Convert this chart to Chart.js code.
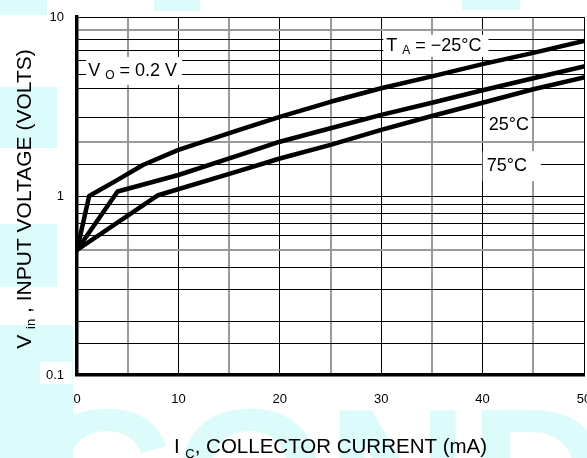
<!DOCTYPE html>
<html>
<head>
<meta charset="utf-8">
<script src="https://cdn.jsdelivr.net/npm/chart.js@4.4.1/dist/chart.umd.min.js"></script>
<style>
    html, body { margin: 0; padding: 0; background: #fff; }
    .chart-container { width: 587px; height: 458px; position: relative; }
</style>
</head>
<body>
<div class="chart-container"><canvas id="vin-chart"></canvas></div>
<script>
// collector current (mA) and input voltage (V)
const currentM25 = [0, 1.2, 4, 6.5, 10, 16, 20, 25, 30, 35, 40, 45, 50];
const voltsM25 = [0.5, 1.0, 1.23, 1.49, 1.81, 2.34, 2.77, 3.36, 4.0, 4.66, 5.45, 6.3, 7.35];
const current25 = [0, 4, 10, 16, 20, 25, 30, 35, 40, 45, 50];
const volts25 = [0.5, 1.06, 1.31, 1.69, 2.01, 2.39, 2.84, 3.32, 3.9, 4.55, 5.3];
const current75 = [0, 8, 16, 20, 25, 30, 35, 40, 45, 50];
const volts75 = [0.5, 1.01, 1.38, 1.62, 1.93, 2.34, 2.8, 3.32, 3.95, 4.6];

// grid lines and tick labels
const xGridValues = [0, 5, 10, 15, 20, 25, 30, 35, 40, 45, 50];
const xLabelValues = [0, 10, 20, 30, 40, 50];
const xTickLabels = ["0", "10", "20", "30", "40", "50"];
const yGridValues = [0.1, 0.15, 0.2, 0.3, 0.4, 0.5, 0.6, 0.7, 0.8, 0.9, 1, 1.5, 2, 2.75, 4, 4.75, 5.7, 6.5, 7.5, 8.5, 10];
const yLabelValues = [0.1, 1, 10];
const yTickLabels = ["0.1", "1", "10"];
const yGrayLines = [0.5, 2, 8.5];
const xGrayLines = [5, 15, 25, 35, 45];

const FONT = '"Liberation Sans", Arial, Helvetica, sans-serif';

function toPoints(xs, ys) {
    return xs.map((x, i) => ({ x: x, y: ys[i] }));
}

function labelFor(values, labels, v) {
    const i = values.findIndex((w) => Math.abs(w - v) < 1e-9);
    return i >= 0 ? labels[i] : "";
}

// text pieces: [text, isSubscript]
function drawPieces(ctx, pieces, x, y, size, subSize, subDrop) {
    pieces.forEach(([text, sub]) => {
        ctx.font = (sub ? subSize : size) + "px " + FONT;
        ctx.fillText(text, x, sub ? y + subDrop : y);
        x += ctx.measureText(text).width;
    });
    return x;
}

function piecesWidth(ctx, pieces, size, subSize) {
    let w = 0;
    pieces.forEach(([text, sub]) => {
        ctx.font = (sub ? subSize : size) + "px " + FONT;
        w += ctx.measureText(text).width;
    });
    return w;
}

// in-plot labels, anchored in data units (left edge, vertical middle)
const plotLabels = [
    { x: 1.1, y: 5.0, pieces: [["V ", false], ["O", true], [" = 0.2 V", false]], pad: [2, 5, 14] },
    { x: 30.5, y: 6.9, pieces: [["T ", false], ["A", true], [" = \u221225\u00B0C", false]], pad: [3, 7, 11] },
    { x: 40.6, y: 2.49, pieces: [["25\u00B0C", false]], pad: [4, 2, 11] },
    { x: 40.4, y: 1.47, pieces: [["75\u00B0C", false]], pad: [4, 14, 15] },
];

const backgroundPlugin = {
    id: "background",
    beforeDraw(chart) {
        const ctx = chart.ctx;
        const area = chart.chartArea;
        ctx.save();
        ctx.fillStyle = "#fff";
        ctx.fillRect(0, 0, chart.width, chart.height);
        // faint watermark behind the plot
        ctx.fillStyle = "#dcfbfb";
        ctx.fillRect(0, 0, 47, 15);
        ctx.fillRect(154, 0, 46, 11);
        ctx.fillRect(462, 0, 58, 10);
        ctx.fillRect(0, 87, 57, 61);
        ctx.fillRect(0, 224, 57, 63);
        ctx.fillRect(0, 325, 73, 133);
        ctx.font = "bold 197px " + FONT;
        ctx.textBaseline = "alphabetic";
        ctx.fillText("CONDUC", 31, 546);
        ctx.fillStyle = "#fff";
        ctx.fillRect(area.left, area.top, area.right - area.left, area.bottom - area.top);
        ctx.fillRect(48, 5, 24, 20);
        ctx.fillRect(40, 362, 32, 22);
        ctx.restore();
    },
};

const labelsPlugin = {
    id: "plotLabels",
    beforeDatasetsDraw(chart) {
        const ctx = chart.ctx;
        const xs = chart.scales.x;
        const ys = chart.scales.y;
        ctx.save();
        ctx.textBaseline = "middle";
        ctx.fillStyle = "#000";
        plotLabels.forEach((lab) => {
            const px = xs.getPixelForValue(lab.x);
            const py = ys.getPixelForValue(lab.y);
            const w = piecesWidth(ctx, lab.pieces, 18, 12);
            ctx.fillStyle = "#fff";
            ctx.fillRect(px - lab.pad[0], py - lab.pad[2], w + lab.pad[0] + lab.pad[1], lab.pad[2] * 2);
            ctx.fillStyle = "#000";
            drawPieces(ctx, lab.pieces, px, py, 18, 12, 5);
        });
        ctx.restore();
    },
};

const titlesPlugin = {
    id: "axisTitles",
    afterDraw(chart) {
        const ctx = chart.ctx;
        const area = chart.chartArea;
        ctx.save();
        ctx.fillStyle = "#000";
        ctx.textBaseline = "alphabetic";

        const xTitle = [["I ", false], ["C", true], [", COLLECTOR CURRENT (mA)", false]];
        const xw = piecesWidth(ctx, xTitle, 20.5, 13);
        drawPieces(ctx, xTitle, (area.left + area.right) / 2 - xw / 2, 453, 20.5, 13, 5);

        const yTitle = [["V ", false], ["in", true], [" , INPUT VOLTAGE (VOLTS)", false]];
        const yw = piecesWidth(ctx, yTitle, 21, 13);
        ctx.translate(31, (area.top + area.bottom) / 2 + 3);
        ctx.rotate(-Math.PI / 2);
        drawPieces(ctx, yTitle, -yw / 2, 0, 21, 13, 4);
        ctx.restore();
    },
};

const lineStyle = {
    borderColor: "#000",
    borderWidth: 4.5,
    pointRadius: 0,
    tension: 0,
    fill: false,
    borderJoinStyle: "round",
    borderCapStyle: "round",
};

new Chart(document.getElementById("vin-chart"), {
    type: "line",
    data: {
        datasets: [
            Object.assign({ label: "TA = -25°C", data: toPoints(currentM25, voltsM25) }, lineStyle),
            Object.assign({ label: "25°C", data: toPoints(current25, volts25) }, lineStyle),
            Object.assign({ label: "75°C", data: toPoints(current75, volts75) }, lineStyle),
        ],
    },
    options: {
        responsive: true,
        maintainAspectRatio: false,
        animation: false,
        devicePixelRatio: 1,
        layout: { padding: { top: 17, right: 3, left: 0, bottom: 0 } },
        plugins: {
            legend: { display: false },
            tooltip: { enabled: false },
        },
        scales: {
            x: {
                type: "linear",
                min: 0,
                max: 50,
                afterBuildTicks: (scale) => {
                    scale.ticks = xGridValues.map((v) => ({ value: v }));
                },
                afterFit: (scale) => {
                    scale.height = 83;
                    scale.paddingLeft = 0;
                    scale.paddingRight = 0;
                },
                ticks: {
                    autoSkip: false,
                    maxRotation: 0,
                    padding: 17,
                    color: "#000",
                    font: { family: FONT, size: 13 },
                    callback: (v) => labelFor(xLabelValues, xTickLabels, v),
                },
                grid: {
                    drawTicks: false,
                    color: (c) => (c.tick && xGrayLines.includes(c.tick.value) ? "#9a9a9a" : "#000"),
                    lineWidth: (c) => (c.tick && xGrayLines.includes(c.tick.value) ? 2 : 1),
                },
                border: { color: "#000", width: 3.5 },
            },
            y: {
                type: "logarithmic",
                min: 0.1,
                max: 10,
                afterBuildTicks: (scale) => {
                    scale.ticks = yGridValues.map((v) => ({ value: v }));
                },
                afterFit: (scale) => {
                    scale.width = 77;
                    scale.paddingTop = 0;
                    scale.paddingBottom = 0;
                },
                ticks: {
                    autoSkip: false,
                    padding: 13,
                    color: "#000",
                    font: { family: FONT, size: 13 },
                    callback: (v) => labelFor(yLabelValues, yTickLabels, v),
                },
                grid: {
                    drawTicks: false,
                    color: (c) => (c.tick && yGrayLines.includes(c.tick.value) ? "#9a9a9a" : "#000"),
                    lineWidth: (c) => (c.tick && yGrayLines.includes(c.tick.value) ? 2 : 1),
                },
                border: { color: "#000", width: 3.5 },
            },
        },
    },
    plugins: [backgroundPlugin, labelsPlugin, titlesPlugin],
});
</script>
</body>
</html>
